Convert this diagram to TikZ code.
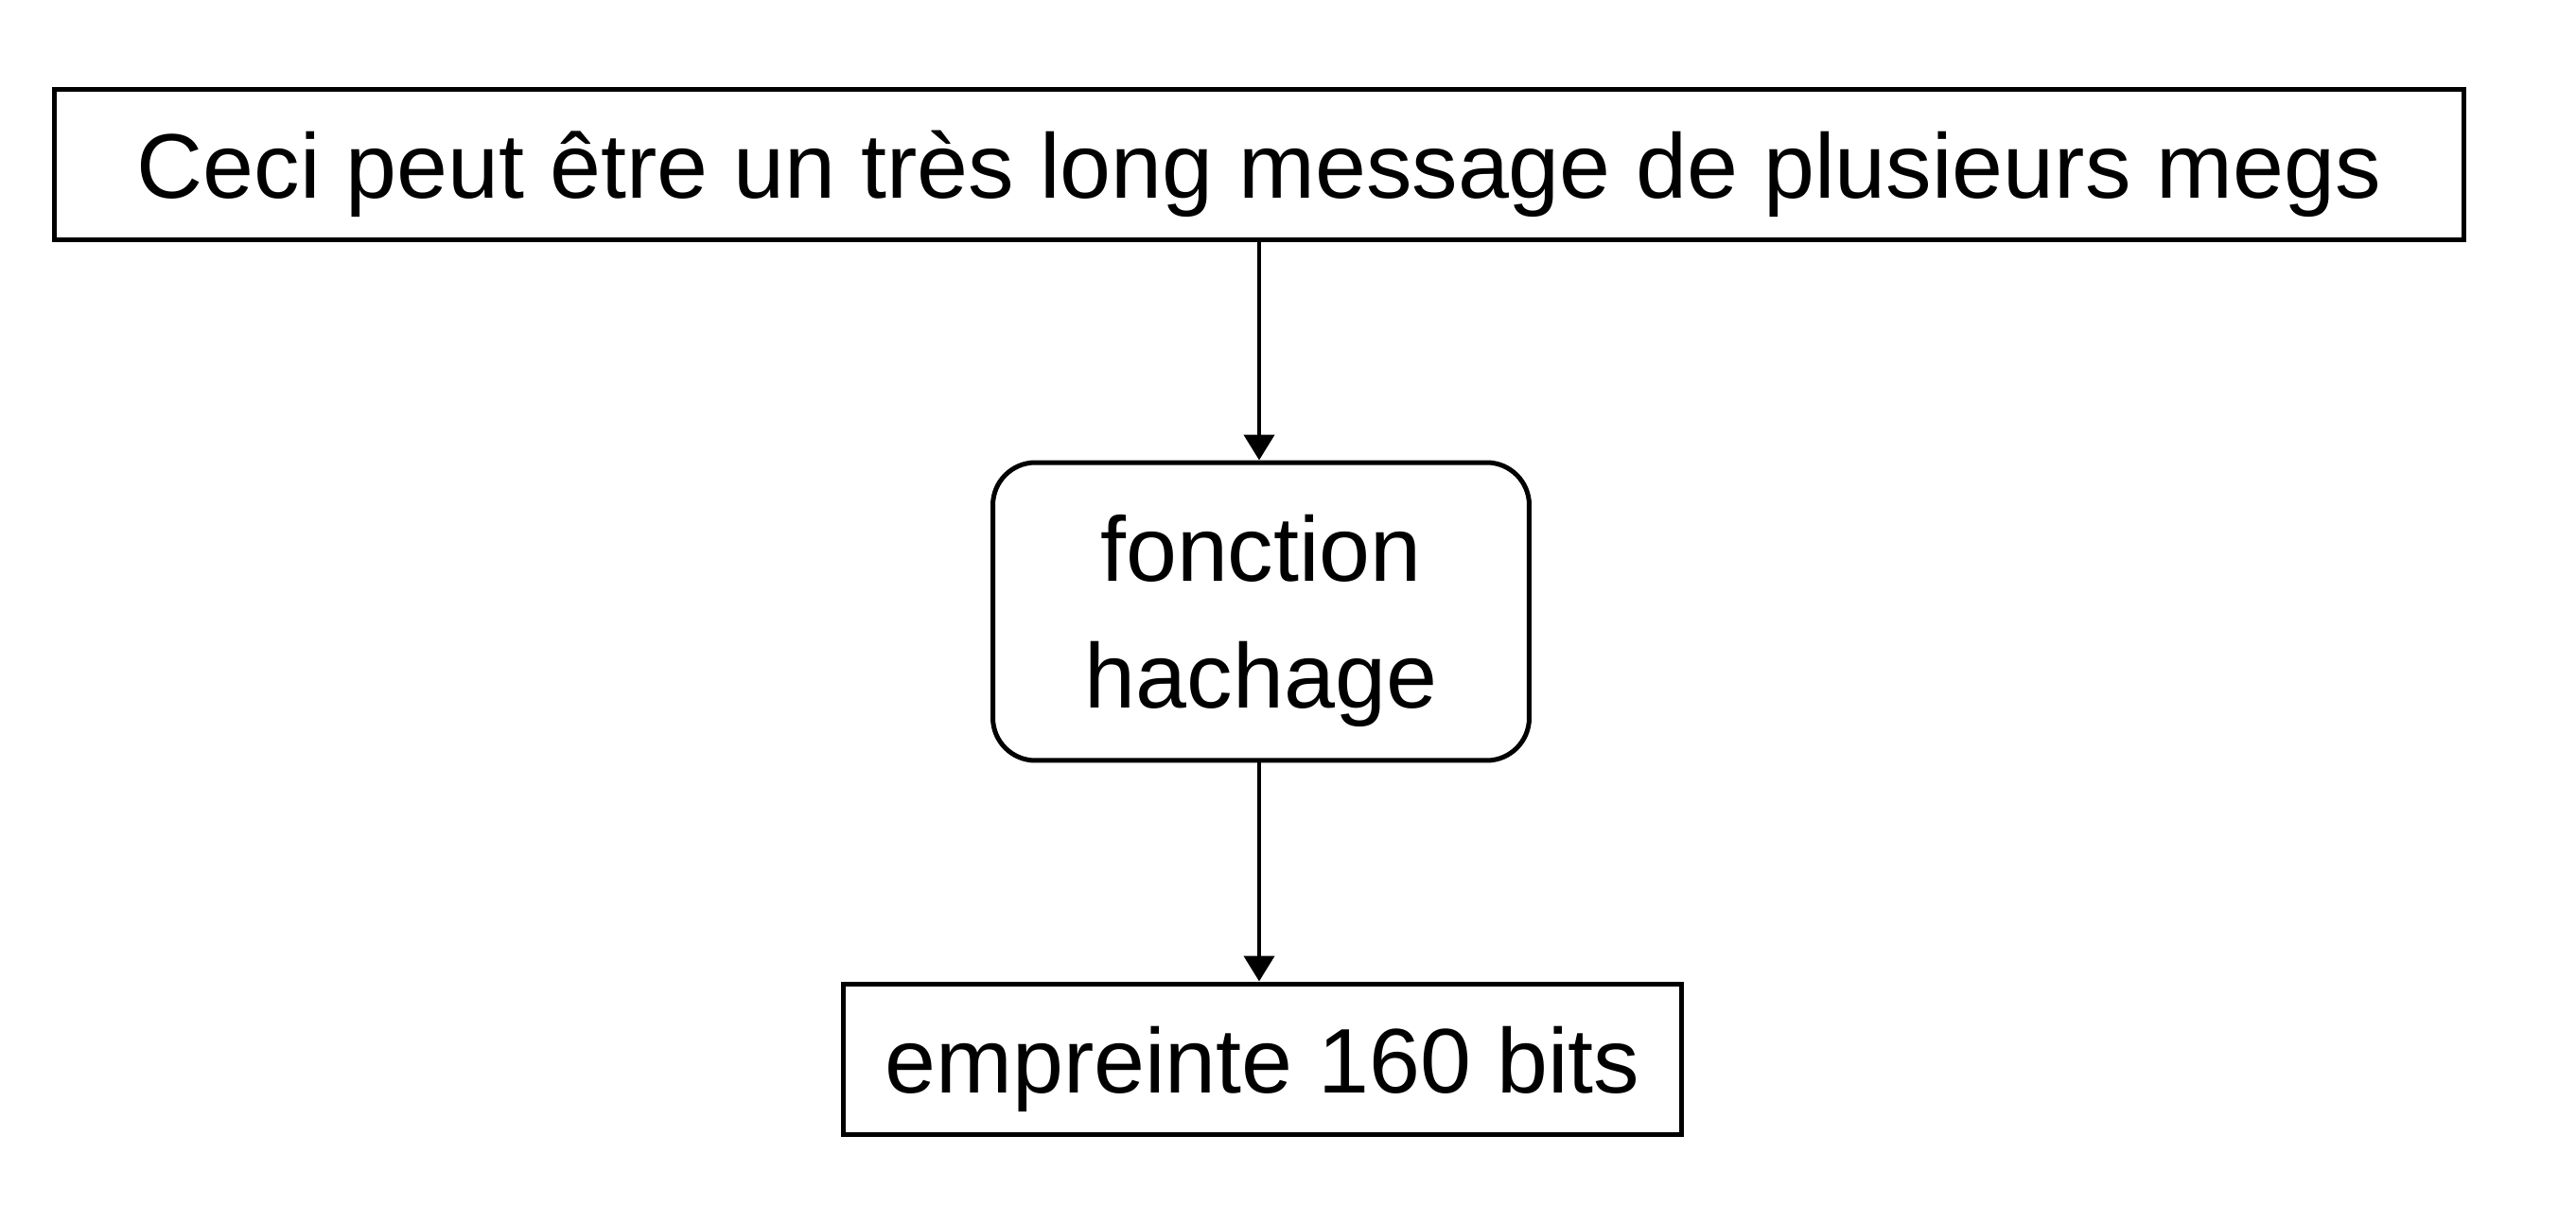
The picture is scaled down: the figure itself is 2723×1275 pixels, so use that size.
\documentclass[tikz,border=0pt]{standalone}
\usepackage{fontspec}
\setmainfont{Liberation Sans}
\usetikzlibrary{arrows.meta}
\begin{document}
\begin{tikzpicture}[x=0.1pt,y=-0.1pt,
  box/.style={draw=black, line width=0.5pt, inner sep=0pt, font=\fontsize{9.7pt}{13.4pt}\selectfont, text height=7pt, text depth=0pt},
  roundbox/.style={box, rounded corners=4.5pt, align=center, text height=20.4pt},
  conn/.style={line width=0.45pt, -{Triangle[length=2.7pt,width=3.2pt]}}]
\useasboundingbox (0,0) rectangle (2723,1275);
\node[box, minimum width=254.8pt, minimum height=15.9pt] (msg) at (1331,174.5) {Ceci peut être un très long message de plusieurs megs};
\node[roundbox, minimum width=56.7pt, minimum height=31.5pt] (hash) at (1333,646.5) {fonction\\hachage};
\node[box, minimum width=88.7pt, minimum height=16pt] (fp) at (1334.5,1120) {empreinte 160 bits};
\draw[conn] (msg.south -| 1331,0) -- (hash.north -| 1331,0);
\draw[conn] (hash.south -| 1331,0) -- (fp.north -| 1331,0);
\end{tikzpicture}
\end{document}
